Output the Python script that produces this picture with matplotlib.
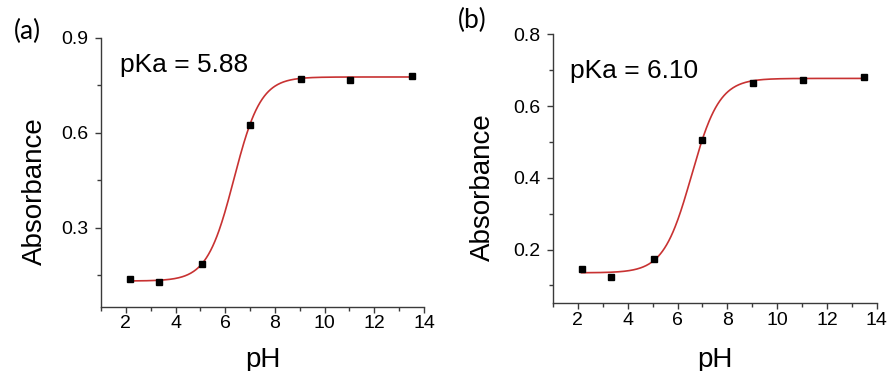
import numpy as np
import matplotlib
matplotlib.use("Agg")
import matplotlib.pyplot as plt
from matplotlib.ticker import MultipleLocator

plt.rcParams['font.family'] = ['Liberation Sans', 'DejaVu Sans']

# Measured absorbance vs pH
ph_a = [2.16, 3.34, 5.06, 6.99, 9.05, 11.03, 13.53]
abs_a = [0.137, 0.130, 0.185, 0.624, 0.770, 0.765, 0.779]
ph_b = [2.15, 3.31, 5.06, 6.99, 9.04, 11.03, 13.50]
abs_b = [0.147, 0.124, 0.173, 0.505, 0.664, 0.672, 0.682]

# Boltzmann fit parameters (A1, A2, x0, dx)
fit_a = (0.132, 0.776, 6.35, 0.54)
fit_b = (0.135, 0.677, 6.56, 0.56)

pka_labels = ["pKa = 5.88", "pKa = 6.10"]
panel_tags = ["(a)", "(b)"]

W, H = 889, 371
fig = plt.figure(figsize=(W / 100, H / 100), dpi=100)


def px_axes(left, top, right, bottom):
    return fig.add_axes([left / W, (H - bottom) / H, (right - left) / W, (bottom - top) / H])


def boltzmann(x, a1, a2, x0, dx):
    return a2 + (a1 - a2) / (1 + np.exp((x - x0) / dx))


def draw(ax, ph, ab, fit, ylim, ymajor, yminor, pka, text_xy, ylab_xy, xlab_xy):
    xs = np.linspace(min(ph), max(ph), 400)
    ax.plot(xs, boltzmann(xs, *fit), color='#c83232', lw=1.2, zorder=2)
    ax.plot(ph, ab, 's', color='black', ms=4.5, zorder=3)
    ax.set_xlim(1, 14)
    ax.set_ylim(*ylim)
    ax.xaxis.set_major_locator(MultipleLocator(2))
    ax.xaxis.set_minor_locator(MultipleLocator(1))
    ax.yaxis.set_major_locator(MultipleLocator(ymajor))
    ax.yaxis.set_minor_locator(MultipleLocator(yminor))
    for s in ('top', 'right'):
        ax.spines[s].set_visible(False)
    for s in ('left', 'bottom'):
        ax.spines[s].set_color('#3a3a3a')
        ax.spines[s].set_linewidth(1.0)
    ax.tick_params(which='both', direction='out', color='#3a3a3a', width=1.0)
    ax.tick_params(which='major', length=4)
    ax.tick_params(which='minor', length=3)
    ax.tick_params(axis='x', which='major', labelsize=14, pad=2)
    ax.tick_params(axis='y', which='major', labelsize=14, pad=5)
    ax.set_xlabel("pH", fontsize=20)
    ax.xaxis.set_label_coords(*xlab_xy)
    ax.xaxis.label.set_va('baseline')
    ax.set_ylabel("Absorbance", fontsize=20)
    ax.yaxis.set_label_coords(*ylab_xy)
    ax.yaxis.label.set_va('baseline')
    ax.text(text_xy[0], text_xy[1], pka, transform=ax.transAxes, fontsize=19,
            va='baseline', ha='left')


ax1 = px_axes(101, 37.7, 424, 307)
draw(ax1, ph_a, abs_a, fit_a, (0.05, 0.9), 0.3, 0.15, pka_labels[0],
     (0.059, 0.873), (-0.1836, 0.4315), (0.5, -0.2217))

ax2 = px_axes(553, 34.3, 876.7, 303.3)
draw(ax2, ph_b, abs_b, fit_b, (0.05, 0.8), 0.2, 0.1, pka_labels[1],
     (0.0525, 0.8375), (-0.1946, 0.4305), (0.5, -0.2357))

fig.text(27 / W, 1 - 31 / H, panel_tags[0], fontsize=19, family=['Lato', 'DejaVu Sans'],
         ha='center', va='center')
fig.text(472 / W, 1 - 20 / H, panel_tags[1], fontsize=19, family=['Lato', 'DejaVu Sans'],
         ha='center', va='center')

fig.savefig("out.png", dpi=100)
